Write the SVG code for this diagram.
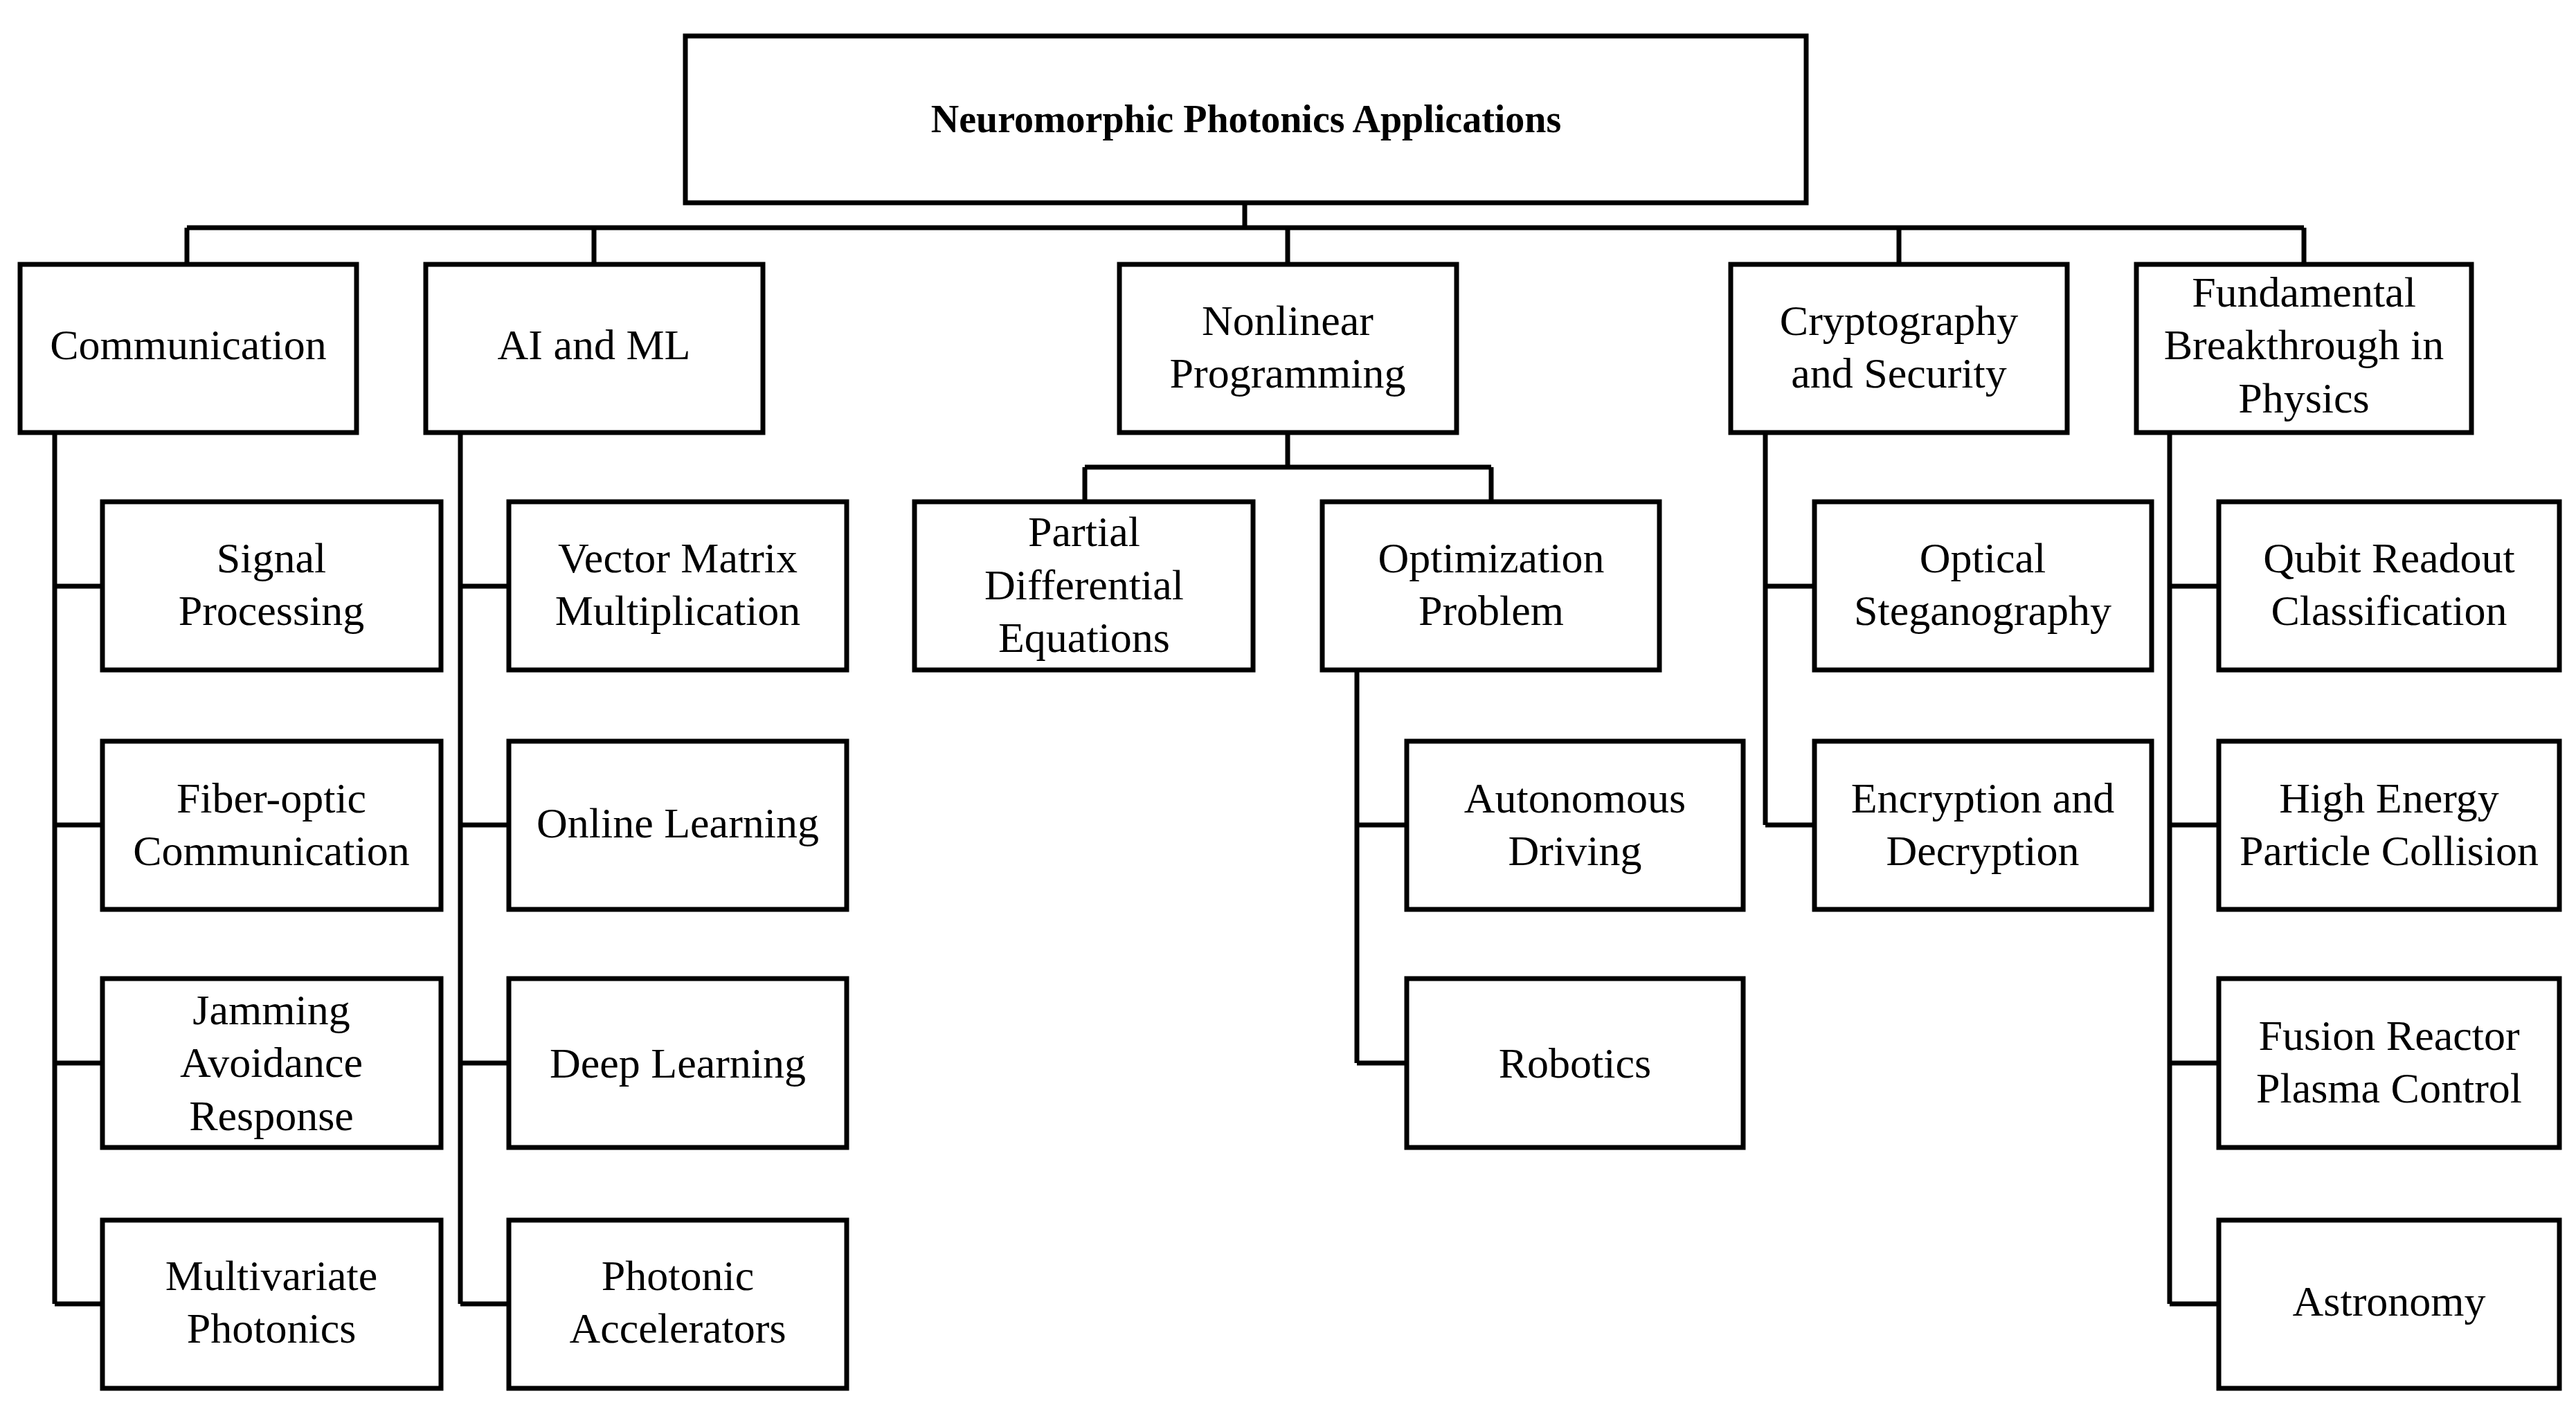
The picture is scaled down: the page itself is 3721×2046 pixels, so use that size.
<svg xmlns="http://www.w3.org/2000/svg" width="3721" height="2046" viewBox="0 0 3721 2046">
<style>
rect{fill:#fff;stroke:#000;stroke-width:7}
text{font-family:"Liberation Serif",serif;font-size:62px;text-anchor:middle;dominant-baseline:central;fill:#000}
.t{font-weight:bold;font-size:56px}
#conn path{fill:none;stroke:#000;stroke-width:7}
</style>
<rect x="0" y="0" width="3721" height="2046" style="stroke:none"/>
<g id="conn">
<path d="M1798 293V329M270 329H3328M270 329V382M858 329V382M1860 329V382M2743 329V382M3328 329V382"/>
<path d="M79 625V1884M79 847H148M79 1192H148M79 1536H148M79 1884H148"/>
<path d="M665 625V1884M665 847H735M665 1192H735M665 1536H735M665 1884H735"/>
<path d="M1860 625V675M1567 675H2154M1567 675V725M2154 675V725"/>
<path d="M1960 968V1536M1960 1192H2032M1960 1536H2032"/>
<path d="M2550 625V1192M2550 847H2621M2550 1192H2621"/>
<path d="M3134 625V1884M3134 847H3205M3134 1192H3205M3134 1536H3205M3134 1884H3205"/>
</g>
<g id="root"><rect x="990" y="52" width="1619" height="241"/><text class="t" x="1800" y="172">Neuromorphic Photonics Applications</text></g>
<g id="comm"><rect x="29" y="382" width="486" height="243"/><text x="272" y="498">Communication</text></g>
<g id="ai"><rect x="615" y="382" width="487" height="243"/><text x="858" y="498">AI and ML</text></g>
<g id="nlp"><rect x="1617" y="382" width="487" height="243"/><text x="1860" y="463">Nonlinear</text><text x="1860" y="539">Programming</text></g>
<g id="crypto"><rect x="2500" y="382" width="486" height="243"/><text x="2743" y="463">Cryptography</text><text x="2743" y="539">and Security</text></g>
<g id="fund"><rect x="3086" y="382" width="484" height="243"/><text x="3328" y="422">Fundamental</text><text x="3328" y="498">Breakthrough in</text><text x="3328" y="575">Physics</text></g>

<g id="sig"><rect x="148" y="725" width="489" height="243"/><text x="392" y="806">Signal</text><text x="392" y="882">Processing</text></g>
<g id="fiber"><rect x="148" y="1071" width="489" height="243"/><text x="392" y="1153">Fiber-optic</text><text x="392" y="1229">Communication</text></g>
<g id="jam"><rect x="148" y="1414" width="489" height="244"/><text x="392" y="1459">Jamming</text><text x="392" y="1535">Avoidance</text><text x="392" y="1612">Response</text></g>
<g id="multi"><rect x="148" y="1763" width="489" height="243"/><text x="392" y="1843">Multivariate</text><text x="392" y="1919">Photonics</text></g>

<g id="vmm"><rect x="735" y="725" width="488" height="243"/><text x="979" y="806">Vector Matrix</text><text x="979" y="882">Multiplication</text></g>
<g id="online"><rect x="735" y="1071" width="488" height="243"/><text x="979" y="1189">Online Learning</text></g>
<g id="deep"><rect x="735" y="1414" width="488" height="244"/><text x="979" y="1536">Deep Learning</text></g>
<g id="accel"><rect x="735" y="1763" width="488" height="243"/><text x="979" y="1843">Photonic</text><text x="979" y="1919">Accelerators</text></g>

<g id="pde"><rect x="1321" y="725" width="489" height="243"/><text x="1566" y="768">Partial</text><text x="1566" y="845">Differential</text><text x="1566" y="921">Equations</text></g>
<g id="opt"><rect x="1910" y="725" width="487" height="243"/><text x="2154" y="806">Optimization</text><text x="2154" y="882">Problem</text></g>
<g id="auto"><rect x="2032" y="1071" width="486" height="243"/><text x="2275" y="1153">Autonomous</text><text x="2275" y="1229">Driving</text></g>
<g id="robot"><rect x="2032" y="1414" width="486" height="244"/><text x="2275" y="1536">Robotics</text></g>

<g id="steg"><rect x="2621" y="725" width="487" height="243"/><text x="2864" y="806">Optical</text><text x="2864" y="882">Steganography</text></g>
<g id="enc"><rect x="2621" y="1071" width="487" height="243"/><text x="2864" y="1153">Encryption and</text><text x="2864" y="1229">Decryption</text></g>

<g id="qubit"><rect x="3205" y="725" width="492" height="243"/><text x="3451" y="806">Qubit Readout</text><text x="3451" y="882">Classification</text></g>
<g id="hep"><rect x="3205" y="1071" width="492" height="243"/><text x="3451" y="1153">High Energy</text><text x="3451" y="1229">Particle Collision</text></g>
<g id="fusion"><rect x="3205" y="1414" width="492" height="244"/><text x="3451" y="1496">Fusion Reactor</text><text x="3451" y="1572">Plasma Control</text></g>
<g id="astro"><rect x="3205" y="1763" width="492" height="243"/><text x="3451" y="1880">Astronomy</text></g>
</svg>
